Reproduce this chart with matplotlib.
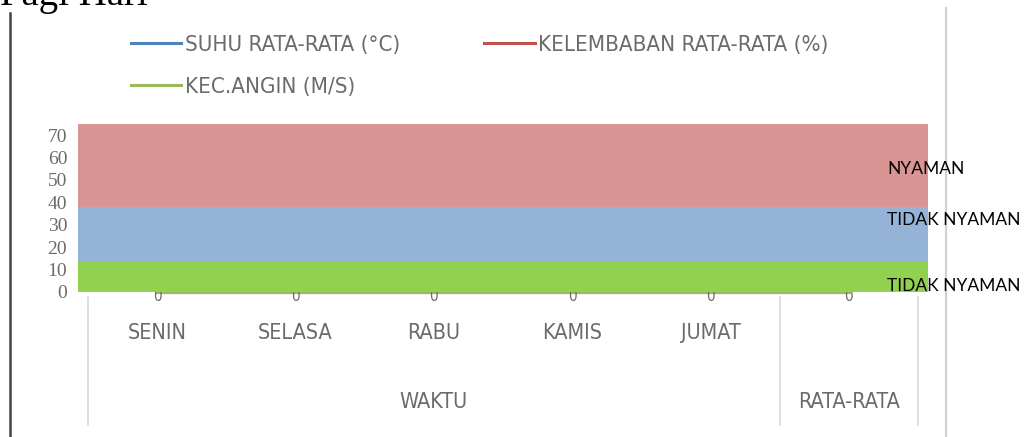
import matplotlib.pyplot as plt
from matplotlib.patches import Rectangle
from matplotlib.lines import Line2D

# Data
kategori = ['SENIN', 'SELASA', 'RABU', 'KAMIS', 'JUMAT', '']
kelompok = ['WAKTU', 'RATA-RATA']
kelompok_ukuran = [5, 1]
suhu = [0, 0, 0, 0, 0, 0]
kelembaban = [0, 0, 0, 0, 0, 0]
angin = [0, 0, 0, 0, 0, 0]
seri_label = ['SUHU RATA-RATA (°C)', 'KELEMBABAN RATA-RATA (%)', 'KEC.ANGIN (M/S)']

# Batas zona kenyamanan (bawah, atas)
zona_batas = [(0, 14), (14, 38), (38, 75)]
zona_warna = ['#92D050', '#95B3D7', '#D99594']
zona_label = ['TIDAK NYAMAN', 'TIDAK NYAMAN', 'NYAMAN']
zona_label_y = [2.5, 32, 55]
yticks = [0, 10, 20, 30, 40, 50, 60, 70]

W, H = 1033, 437
fig = plt.figure(figsize=(W / 100, H / 100), dpi=100)
ax = fig.add_axes([88 / W, (H - 292) / H, 830 / W, 168 / H])
ax.set_xlim(-0.5, len(kategori) - 0.5)
ax.set_ylim(0, 75)
for s in ax.spines.values():
    s.set_visible(False)

narrow = dict(family='DejaVu Sans', stretch='condensed')
abu = '#6b6b6b'

# Garis seri (tertutup oleh zona)
x = list(range(len(kategori)))
warna_seri = ['#4F81BD', '#C0504D', '#9BBB59']
garis = []
for data, c, lab in zip([suhu, kelembaban, angin], warna_seri, seri_label):
    l, = ax.plot(x, data, color=c, lw=2.2, label=lab, zorder=1, clip_on=False)
    garis.append(l)
for i, v in enumerate(suhu):
    ax.annotate(str(v), (i, v), xytext=(0, -3), textcoords='offset points',
                ha='center', va='center', fontsize=11, color=abu,
                zorder=1, annotation_clip=False, **narrow)

# Zona warna
tr = ax.get_yaxis_transform()
for (lo, hi), c in zip(zona_batas, zona_warna):
    ax.add_patch(Rectangle((-10 / 830, lo), 1 + 20 / 830, hi - lo, transform=tr,
                           facecolor=c, edgecolor='none', zorder=3, clip_on=False))
for lab, yv in zip(zona_label, zona_label_y):
    ax.text((887 - 88) / 830, yv, lab, transform=tr, ha='left', va='center',
            fontsize=12.5, family=['Lato', 'DejaVu Sans'], color='black', zorder=4,
            clip_on=False)

# Sumbu y
ax.set_yticks(yticks)
ax.tick_params(axis='y', length=0, pad=15, labelsize=14, labelcolor=abu)
for t in ax.get_yticklabels():
    t.set_family(['Liberation Serif', 'DejaVu Serif'])
ax.set_xticks([])

# Label kategori dan kelompok
xt = ax.get_xaxis_transform()
for i, k in enumerate(kategori):
    ax.text(i, -41 / 168, k, transform=xt, ha='center', va='center',
            fontsize=15.5, color=abu, **narrow)
start = -0.5
seps = [start]
for g, n in zip(kelompok, kelompok_ukuran):
    ax.text(start + n / 2, -110 / 168, g, transform=xt, ha='center', va='center',
            fontsize=15.5, color=abu, **narrow)
    start += n
    seps.append(start)
for s in seps:
    ax.plot([s, s], [-5 / 168, -133 / 168], transform=xt, color='#d9d9d9',
            lw=1.2, clip_on=False)

# Legenda
urut = [garis[0], garis[2], garis[1]]
fig.legend(urut, [l.get_label() for l in urut], ncol=2, loc='upper left',
           bbox_to_anchor=(111 / W, 1 - 15 / H), frameon=False,
           prop=dict(size=16, **narrow), labelcolor=abu,
           handlelength=2.27, handletextpad=0.14, columnspacing=3.8,
           labelspacing=0.97)

# Judul terpotong dan garis tepi
fig.text(0.0, 1 - 5 / H, 'Pagi Hari', family=['Liberation Serif', 'DejaVu Serif'],
         fontsize=28, va='baseline', ha='left')
fig.add_artist(Line2D([10 / W, 10 / W], [0, 1 - 13 / H], color='#444444', lw=1.8))
fig.add_artist(Line2D([946 / W, 946 / W], [0, 1 - 8 / H], color='#d0d0d0', lw=1.5,
                      zorder=-1))

fig.savefig('out.png', dpi=100)
